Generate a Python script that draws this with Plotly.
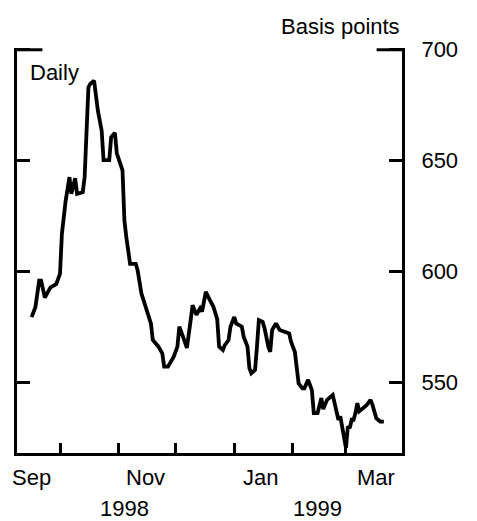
import plotly.graph_objects as go

# ---- data ----
dates = [
    "1998-09-16", "1998-09-18", "1998-09-20", "1998-09-21", "1998-09-23", "1998-09-26",
    "1998-09-29", "1998-10-01", "1998-10-02", "1998-10-04", "1998-10-06", "1998-10-07",
    "1998-10-09", "1998-10-10", "1998-10-13", "1998-10-14", "1998-10-16", "1998-10-17",
    "1998-10-19", "1998-10-21", "1998-10-23", "1998-10-24", "1998-10-27", "1998-10-28",
    "1998-10-30", "1998-10-31", "1998-11-03", "1998-11-04", "1998-11-05", "1998-11-07",
    "1998-11-10", "1998-11-11", "1998-11-13", "1998-11-15", "1998-11-18", "1998-11-19",
    "1998-11-22", "1998-11-24", "1998-11-25", "1998-11-27", "1998-11-30", "1998-12-02",
    "1998-12-03", "1998-12-05", "1998-12-07", "1998-12-09", "1998-12-10", "1998-12-12",
    "1998-12-14", "1998-12-15", "1998-12-17", "1998-12-19", "1998-12-21", "1998-12-23",
    "1998-12-24", "1998-12-26", "1998-12-27", "1998-12-29", "1998-12-30", "1999-01-01",
    "1999-01-02", "1999-01-05", "1999-01-06", "1999-01-08", "1999-01-09", "1999-01-10",
    "1999-01-12", "1999-01-13", "1999-01-14", "1999-01-16", "1999-01-17", "1999-01-19",
    "1999-01-20", "1999-01-21", "1999-01-23", "1999-01-25", "1999-01-28", "1999-01-30",
    "1999-01-31", "1999-02-02", "1999-02-04", "1999-02-06", "1999-02-07", "1999-02-09",
    "1999-02-11", "1999-02-12", "1999-02-14", "1999-02-15", "1999-02-16", "1999-02-17",
    "1999-02-19", "1999-02-22", "1999-02-23", "1999-02-24", "1999-02-25", "1999-02-26",
    "1999-02-27", "1999-02-28", "1999-03-01", "1999-03-02", "1999-03-03", "1999-03-04",
    "1999-03-05", "1999-03-06", "1999-03-07", "1999-03-08", "1999-03-10", "1999-03-12",
    "1999-03-14", "1999-03-15", "1999-03-17", "1999-03-19", "1999-03-21",
]
spread = [
    579.3, 583.8, 595.8, 595.8, 588.2, 592.8,
    594.2, 598.9, 617.0, 632.0, 642.5, 635.0,
    642.0, 635.0, 635.7, 642.5, 683.0, 684.7,
    686.0, 672.5, 663.5, 650.2, 650.2, 660.5,
    662.5, 653.2, 645.6, 623.0, 615.5, 603.4,
    603.4, 600.4, 590.0, 584.0, 576.5, 569.0,
    566.0, 563.0, 557.0, 557.0, 561.4, 566.0,
    575.0, 570.4, 565.4, 578.0, 584.7, 580.4,
    583.3, 581.8, 590.7, 587.2, 584.0, 578.4,
    566.0, 564.5, 566.7, 569.0, 575.0, 579.4,
    576.5, 575.0, 570.4, 566.0, 556.3, 554.0,
    555.5, 566.0, 578.0, 577.2, 574.3, 566.0,
    563.7, 573.5, 576.5, 573.5, 572.7, 572.0,
    568.2, 563.7, 549.4, 547.2, 547.2, 551.0,
    546.4, 536.0, 536.0, 540.5, 542.8, 537.8,
    542.0, 544.2, 540.5, 536.0, 533.0, 534.5,
    530.0, 527.0, 520.3, 530.0, 529.2, 533.0,
    533.0, 536.0, 540.5, 536.8, 538.3, 539.7,
    542.0, 539.7, 533.7, 532.2, 532.2,
]

y_ticks = [550, 600, 650, 700]
month_tick_dates = ["1998-10-01", "1998-11-01", "1998-12-01", "1999-01-01", "1999-02-01", "1999-03-01"]
month_labels = ["Sep", "Nov", "Jan", "Mar"]
month_label_dates = ["1998-09-16", "1998-11-15", "1999-01-15", "1999-03-17"]
year_labels = ["1998", "1999"]
year_label_dates = ["1998-11-04", "1999-02-14"]

FONT = "Liberation Sans, Arial, Helvetica, sans-serif"
FS = 22

fig = go.Figure()
fig.add_trace(go.Scatter(
    x=dates, y=spread, mode="lines",
    line=dict(color="black", width=3.8),
    showlegend=False, hoverinfo="skip",
))

annotations = []
for lab, d in zip(month_labels, month_label_dates):
    annotations.append(dict(x=d, xref="x", y=-0.061, yref="paper", text=lab,
                            showarrow=False, xanchor="center", yanchor="middle",
                            font=dict(family=FONT, size=FS, color="black")))
for lab, d in zip(year_labels, year_label_dates):
    annotations.append(dict(x=d, xref="x", y=-0.136, yref="paper", text=lab,
                            showarrow=False, xanchor="center", yanchor="middle",
                            font=dict(family=FONT, size=FS, color="black")))
annotations.append(dict(x=1.0, xref="paper", y=1.054, yref="paper", text="Basis points",
                        showarrow=False, xanchor="right", yanchor="middle",
                        font=dict(family=FONT, size=FS, color="black")))
annotations.append(dict(x=0.028, xref="paper", y=0.94, yref="paper", text="Daily",
                        showarrow=False, xanchor="left", yanchor="middle",
                        font=dict(family=FONT, size=FS, color="black")))

shapes = [
    dict(type="line", xref="x domain", yref="y", x0=0, x1=0.066, y0=700, y1=700,
         line=dict(color="black", width=3)),
    dict(type="line", xref="x domain", yref="y", x0=0.934, x1=1, y0=700, y1=700,
         line=dict(color="black", width=3)),
]

fig.update_layout(
    width=477, height=521,
    margin=dict(l=17, r=75, t=48, b=68),
    paper_bgcolor="white", plot_bgcolor="white",
    font=dict(family=FONT, size=FS, color="black"),
    annotations=annotations,
    shapes=shapes,
    xaxis=dict(
        type="date",
        range=["1998-09-08 07:00", "1999-03-30 14:00"],
        tickvals=month_tick_dates,
        showticklabels=False,
        ticks="inside", ticklen=10, tickwidth=2.5, tickcolor="black",
        showline=True, linecolor="black", linewidth=3,
        showgrid=False, zeroline=False,
    ),
    yaxis=dict(
        range=[518, 700.8],
        side="right",
        tickvals=y_ticks,
        ticktext=[str(v) for v in y_ticks],
        ticks="inside", ticklen=13, tickwidth=2.5, tickcolor="black",
        showline=True, linecolor="black", linewidth=3,
        mirror="ticks",
        showgrid=False, zeroline=False,
        ticklabelstandoff=12,
        tickfont=dict(family=FONT, size=FS, color="black"),
    ),
)

fig.write_html(
    "out.html",
    config={"displayModeBar": False},
    post_script="document.body.style.margin='0';document.body.style.padding='0';"
                "document.documentElement.style.overflow='hidden';",
)
